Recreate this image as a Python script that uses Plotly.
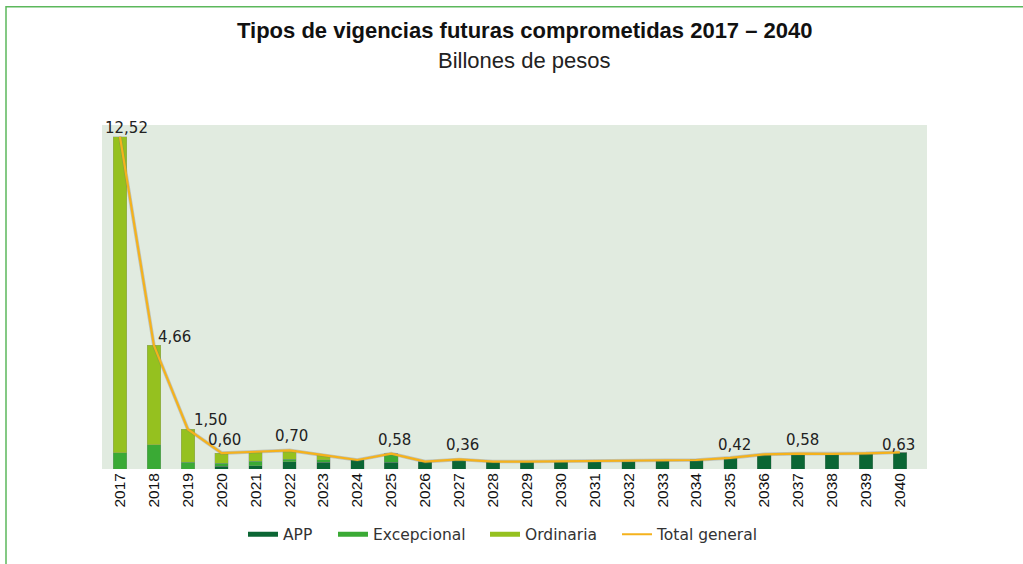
import plotly.graph_objects as go

years = [str(y) for y in range(2017, 2041)]
app = [0, 0, 0, 0.10, 0.13, 0.27, 0.25, 0.34, 0.25, 0.28, 0.36, 0.28,
       0.28, 0.29, 0.29, 0.30, 0.31, 0.34, 0.42, 0.55, 0.58, 0.57, 0.59, 0.63]
excepcional = [0.61, 0.92, 0.25, 0.12, 0.17, 0.10, 0.10, 0, 0.33, 0, 0, 0,
               0, 0, 0, 0, 0, 0, 0, 0, 0, 0, 0, 0]
ordinaria = [11.91, 3.74, 1.25, 0.38, 0.35, 0.33, 0.17, 0, 0, 0, 0, 0,
             0, 0, 0, 0, 0, 0, 0, 0, 0, 0, 0, 0]
total = [round(a + e + o, 2) for a, e, o in zip(app, excepcional, ordinaria)]

labeled_years = ["2017", "2018", "2019", "2020", "2022", "2025", "2027", "2035", "2037", "2040"]
label_shift = {"2017": (7, 9), "2018": (21, 8), "2019": (23, 9), "2020": (3, 13),
               "2022": (2, 14), "2025": (3, 14), "2027": (3, 14), "2035": (4, 13),
               "2037": (4, 14), "2040": (-1, 7)}

C_APP = "#0b6634"
C_EXC = "#3aaa35"
C_ORD = "#95c11f"
C_TOT = "#f5b21c"
edge = dict(color="rgba(140,150,140,0.55)", width=0.6)

fig = go.Figure()
fig.add_bar(x=years, y=app, name="APP", marker=dict(color=C_APP, line=edge), showlegend=False)
fig.add_bar(x=years, y=excepcional, name="Excepcional", marker=dict(color=C_EXC, line=edge), showlegend=False)
fig.add_bar(x=years, y=ordinaria, name="Ordinaria", marker=dict(color=C_ORD, line=edge), showlegend=False)
# shadow of the total line
fig.add_scatter(x=years, y=total, mode="lines", showlegend=False, hoverinfo="skip",
                line=dict(color="rgba(120,120,120,0.35)", width=3.6))
fig.add_scatter(x=years, y=total, mode="lines", name="Total general", showlegend=False,
                line=dict(color=C_TOT, width=2.2))

# frame / pixel helpers
L, W, T, H = 102, 825, 125, 346
def px(xp):
    return (xp - L) / W
def py(yp):
    return (T + H - yp) / H

# legend entries (wide swatches like the reference), one legend per entry
legend_items = [("APP", C_APP, 5, 248), ("Excepcional", C_EXC, 5, 338),
                ("Ordinaria", C_ORD, 5, 490), ("Total general", C_TOT, 2, 622)]
legend_layouts = {}
for k, (nm, col, w, x0) in enumerate(legend_items):
    lid = "legend" if k == 0 else f"legend{k + 1}"
    fig.add_scatter(x=[None], y=[None], mode="lines", name=nm, legend=lid,
                    line=dict(color=col, width=w))
    legend_layouts[lid] = dict(orientation="h", x=px(x0 - 5), xanchor="left",
                               y=py(537), yanchor="middle", bgcolor="rgba(0,0,0,0)",
                               font=dict(family="DejaVu Sans", size=15.5, color="#333333"),
                               itemwidth=30)

for yr in labeled_years:
    i = years.index(yr)
    v = total[i]
    dx, dy = label_shift[yr]
    fig.add_annotation(x=i, y=v, xref="x", yref="y", text=f"{v:.2f}".replace(".", ","),
                       showarrow=False, xshift=dx, yshift=dy, yanchor="middle",
                       font=dict(family="DejaVu Sans", size=15, color="#222222"))

fig.add_shape(type="path", xref="paper", yref="paper",
              path=f"M {px(6)},{py(600)} L {px(6)},{py(6)} L {px(1030)},{py(6)}",
              line=dict(color="#5cb85c", width=1.5))

fig.add_annotation(xref="paper", yref="paper", x=px(525), y=py(30), showarrow=False,
                   yanchor="middle",
                   text="<b>Tipos de vigencias futuras comprometidas 2017 – 2040</b>",
                   font=dict(family="Liberation Sans", size=22, color="#111111"))
fig.add_annotation(xref="paper", yref="paper", x=px(524), y=py(60), showarrow=False,
                   yanchor="middle",
                   text="Billones de pesos",
                   font=dict(family="Liberation Sans", size=22, color="#222222"))

fig.update_layout(
    width=1023, height=564,
    barmode="stack", bargap=0.6,
    paper_bgcolor="white", plot_bgcolor="#e1ebe0",
    margin=dict(l=L, r=1023 - L - W, t=T, b=564 - T - H),
    showlegend=True,
    xaxis=dict(type="category", range=[-0.53, 23.8], tickangle=-90, showgrid=False,
               ticks="", tickfont=dict(family="Liberation Sans", size=15.5, color="#111111")),
    yaxis=dict(range=[0, 12.96], showticklabels=False, showgrid=False, zeroline=False,
               showline=False, ticks=""),
    **legend_layouts,
)

fig.write_html("out.html", config={"displayModeBar": False},
               post_script="document.body.style.margin='0';document.body.style.overflow='hidden';")
